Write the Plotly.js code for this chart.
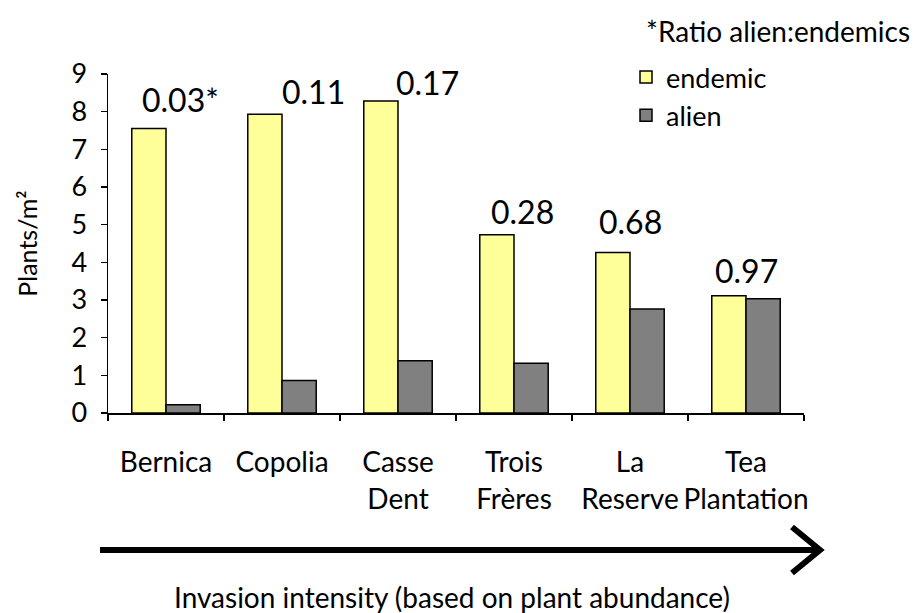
<!DOCTYPE html>
<html>
<head>
<meta charset="utf-8">
<script src="https://cdn.plot.ly/plotly-3.0.1.min.js"></script>
<style>html,body{margin:0;padding:0;background:#fff;}#chart{width:914px;height:613px;}</style>
</head>
<body>
<div id="chart"></div>
<script>
// ---- data ----
const sites = ["Bernica", "Copolia", "Casse<br>Dent", "Trois<br>Frères", "La<br>Reserve", "Tea<br>Plantation"];
const endemic = [7.55, 7.93, 8.28, 4.73, 4.26, 3.11];
const alien = [0.22, 0.86, 1.39, 1.32, 2.76, 3.03];
const ratioLabels = ["0.03*", "0.11", "0.17", "0.28", "0.68", "0.97"];

// label placement tweaks (pixels)
const labelXShift = [14, 31, 29, 8, 0, 0];
const labelYShift = [29, 23, 19, 23, 31, 25];

const FONT = "Lato, 'Open Sans', sans-serif";

// plot area in pixels (for paper conversions of decorations)
const L = 108, R = 804, T = 74, B = 413;
const px = x => (x - L) / (R - L);
const py = y => (B - y) / (B - T);

const traces = [
  {type: "bar", name: "endemic", x: sites, y: endemic,
   marker: {color: "#FFFF99", line: {color: "#000", width: 1.5}}},
  {type: "bar", name: "alien", x: sites, y: alien,
   marker: {color: "#808080", line: {color: "#000", width: 1.5}}}
];

const annotations = ratioLabels.map((t, i) => ({
  x: sites[i], y: endemic[i], xref: "x", yref: "y",
  text: t, showarrow: false, xanchor: "center", yanchor: "middle",
  xshift: labelXShift[i], yshift: labelYShift[i],
  font: {family: FONT, size: 32, color: "#000"}
}));
annotations.push({
  xref: "paper", yref: "paper", x: px(912), y: py(31), xanchor: "right", yanchor: "middle",
  text: "*Ratio alien:endemics", showarrow: false,
  font: {family: FONT, size: 28, color: "#000"}
});
annotations.push({
  xref: "paper", yref: "paper", x: px(452), y: py(597), xanchor: "center", yanchor: "middle",
  text: "Invasion intensity (based on plant abundance)", showarrow: false,
  font: {family: FONT, size: 28, color: "#000"}
});

const shapes = [
  {type: "line", xref: "paper", yref: "paper", x0: px(100), x1: px(818), y0: py(550), y1: py(550),
   line: {color: "#000", width: 6}},
  {type: "path", xref: "paper", yref: "paper",
   path: `M ${px(792)} ${py(527)} L ${px(820)} ${py(550)} L ${px(792)} ${py(573)}`,
   line: {color: "#000", width: 6}}
];

const layout = {
  width: 914, height: 613,
  margin: {l: L, r: 914 - R, t: T, b: 613 - B, pad: 0},
  paper_bgcolor: "#fff", plot_bgcolor: "#fff",
  barmode: "group", bargap: 0.41, bargroupgap: 0,
  font: {family: FONT, color: "#000"},
  xaxis: {
    type: "category", showgrid: false, zeroline: false,
    showline: true, linecolor: "#000", linewidth: 1.5,
    ticks: "outside", tickson: "boundaries", ticklen: 6, tickcolor: "#000", tickwidth: 1.5,
    tickfont: {family: FONT, size: 28, color: "#000"},
    ticklabelstandoff: 24, tickangle: 0
  },
  yaxis: {
    range: [0, 9], dtick: 1, showgrid: false, zeroline: false,
    showline: true, linecolor: "#000", linewidth: 1.5,
    ticks: "outside", ticklen: 6, tickcolor: "#000", tickwidth: 1.5,
    tickfont: {family: FONT, size: 27, color: "#000"},
    ticklabelstandoff: 8,
    title: {text: "Plants/m²", font: {family: FONT, size: 25, color: "#000"}, standoff: 26}
  },
  legend: {
    x: px(626), y: py(53), xanchor: "left", yanchor: "top",
    font: {family: FONT, size: 27, color: "#000"},
    bgcolor: "rgba(0,0,0,0)", itemwidth: 30, tracegroupgap: 0
  },
  annotations: annotations,
  shapes: shapes
};

Plotly.newPlot("chart", traces, layout, {displayModeBar: false, staticPlot: true});
</script>
</body>
</html>
